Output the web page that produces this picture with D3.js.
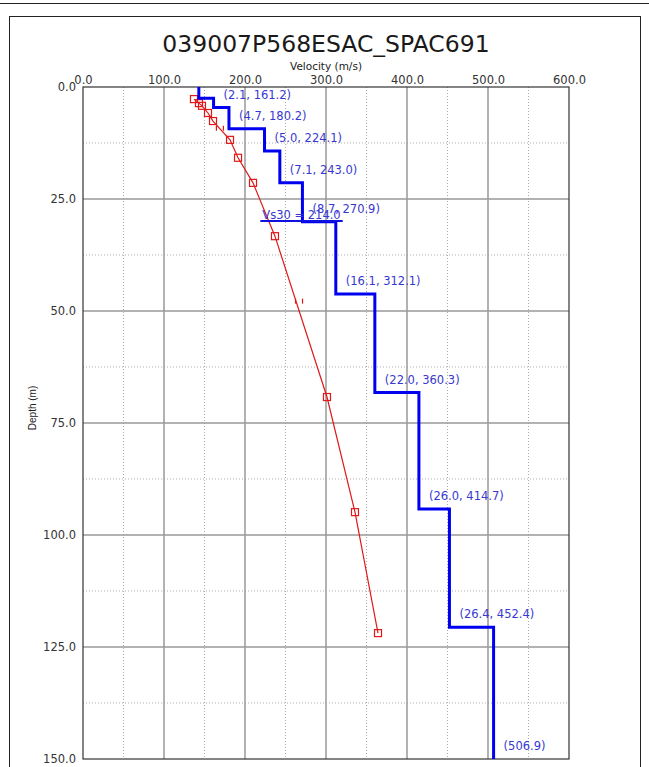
<!DOCTYPE html>
<html>
<head>
<meta charset="utf-8">
<script src="https://cdn.jsdelivr.net/npm/d3@7"></script>
<style>
  html, body { margin: 0; padding: 0; background: #fff; }
  svg { display: block; }
</style>
</head>
<body>
<svg id="chart" width="649" height="767"></svg>
<script>
// ---- Data ----
const title = "039007P568ESAC_SPAC691";
const xTicks = [0, 100, 200, 300, 400, 500, 600];
const yTicks = [0, 25, 50, 75, 100, 125, 150];
const xMinor = [50, 150, 250, 350, 450, 550];
const yMinor = [12.5, 37.5, 62.5, 87.5, 112.5, 137.5];

// Layered Vs model: thickness (m) and shear-wave velocity (m/s); last layer is half-space
const layerThickness = [2.5, 2.1, 4.7, 5.0, 7.1, 8.7, 16.1, 22.0, 26.0, 26.4];
const layerVelocity  = [143.0, 161.2, 180.2, 224.1, 243.0, 270.9, 312.1, 360.3, 414.7, 452.4, 506.9];
const labelledFrom = 1; // first layer is not labelled

// Dispersion-derived points (velocity m/s, depth m)
const pointVel   = [137, 143.2, 146.9, 154.3, 160.5, 181.5, 191.4, 209.9, 237.0, 301.2, 335.8, 364.2];
const pointDepth = [2.7, 3.6, 4.2, 5.8, 7.6, 11.8, 15.8, 21.4, 33.3, 69.2, 94.9, 121.9];
// Intermediate markers drawn as tick pairs
const tickVel   = [169, 266.7];
const tickDepth = [9.2, 47.8];

const vs30 = 214.0;
const vs30Depth = 30;

// ---- Layout ----
const svg = d3.select("#chart");
const W = 649, H = 767;
const x = d3.scaleLinear().domain([0, 600]).range([83, 569]);
const y = d3.scaleLinear().domain([0, 150]).range([87, 759]);

// outer frame
svg.append("line").attr("x1", 0).attr("x2", W).attr("y1", 3.5).attr("y2", 3.5)
  .attr("stroke", "#222").attr("stroke-width", 1);
svg.append("rect").attr("x", 9.5).attr("y", 16.5).attr("width", 631).attr("height", 770)
  .attr("fill", "none").attr("stroke", "#222").attr("stroke-width", 1);

// title
svg.append("text").attr("x", 326).attr("y", 52).attr("text-anchor", "middle")
  .attr("font-family", "DejaVu Sans, Verdana, sans-serif").attr("font-size", 23.5)
  .attr("fill", "#1a1a1a").text(title);

// axis title
svg.append("text").attr("x", 326).attr("y", 70).attr("text-anchor", "middle")
  .attr("font-family", "DejaVu Sans, Verdana, sans-serif").attr("font-size", 10.5)
  .attr("fill", "#222").text("Velocity (m/s)");

svg.append("text").attr("transform", "translate(36,408) rotate(-90)")
  .attr("text-anchor", "middle")
  .attr("font-family", "Liberation Sans Narrow, Liberation Sans, Arial, sans-serif")
  .attr("font-size", 10).attr("fill", "#222").text("Depth (m)");

// grid: minor dotted
const grid = svg.append("g");
grid.selectAll(".vmin").data(xMinor).join("line")
  .attr("x1", d => x(d)).attr("x2", d => x(d)).attr("y1", y(0)).attr("y2", y(150))
  .attr("stroke", "#aaa").attr("stroke-width", 1).attr("stroke-dasharray", "1,2");
grid.selectAll(".hmin").data(yMinor).join("line")
  .attr("x1", x(0)).attr("x2", x(600)).attr("y1", d => y(d)).attr("y2", d => y(d))
  .attr("stroke", "#aaa").attr("stroke-width", 1).attr("stroke-dasharray", "1,2");
// grid: major solid
grid.selectAll(".vmaj").data(xTicks.slice(1, -1)).join("line")
  .attr("x1", d => x(d)).attr("x2", d => x(d)).attr("y1", y(0)).attr("y2", y(150))
  .attr("stroke", "#999").attr("stroke-width", 1.5);
grid.selectAll(".hmaj").data(yTicks.slice(1, -1)).join("line")
  .attr("x1", x(0)).attr("x2", x(600)).attr("y1", d => y(d)).attr("y2", d => y(d))
  .attr("stroke", "#999").attr("stroke-width", 1.5);

// plot border
svg.append("rect").attr("x", x(0)).attr("y", y(0))
  .attr("width", x(600) - x(0)).attr("height", y(150) - y(0))
  .attr("fill", "none").attr("stroke", "#333").attr("stroke-width", 1.2);

// axes (labels only)
const xAxis = d3.axisTop(x).tickValues(xTicks).tickFormat(d3.format(".1f")).tickSize(0).tickPadding(3);
const gx = svg.append("g").attr("transform", `translate(0,${y(0)})`).call(xAxis);
gx.select(".domain").remove();
gx.selectAll("text").attr("font-family", "DejaVu Sans, Verdana, sans-serif")
  .attr("font-size", 11.5).attr("fill", "#333");

const yAxis = d3.axisLeft(y).tickValues(yTicks).tickFormat(d3.format(".1f")).tickSize(0).tickPadding(7);
const gy = svg.append("g").attr("transform", `translate(${x(0)},0)`).call(yAxis);
gy.select(".domain").remove();
gy.selectAll("text").attr("font-family", "DejaVu Sans, Verdana, sans-serif")
  .attr("font-size", 11.5).attr("fill", "#333");

// ---- Red dispersion points ----
const pts = pointVel.map((v, i) => [v, pointDepth[i]]);
svg.append("path").datum(pts)
  .attr("d", d3.line().x(d => x(d[0])).y(d => y(d[1])))
  .attr("fill", "none").attr("stroke", "#e01818").attr("stroke-width", 1.2);
svg.selectAll(".pt").data(pts).join("rect")
  .attr("x", d => x(d[0]) - 3.5).attr("y", d => y(d[1]) - 3.5)
  .attr("width", 7).attr("height", 7)
  .attr("fill", "none").attr("stroke", "#e01818").attr("stroke-width", 1.2);
const tks = tickVel.map((v, i) => [v, tickDepth[i]]);
tks.forEach(d => {
  [-3.5, 3.5].forEach(o => {
    svg.append("line").attr("x1", x(d[0]) + o).attr("x2", x(d[0]) + o)
      .attr("y1", y(d[1]) - 2.5).attr("y2", y(d[1]) + 2.5)
      .attr("stroke", "#e01818").attr("stroke-width", 1.2);
  });
});

// ---- Blue step profile ----
const tops = [0];
layerThickness.forEach((t, i) => tops.push(tops[i] + t));
const bottoms = tops.slice(1).concat([150]);
const stepPts = [];
layerVelocity.forEach((v, i) => {
  stepPts.push([v, tops[i]]);
  stepPts.push([v, bottoms[i]]);
});
svg.append("path").datum(stepPts)
  .attr("d", d3.line().x(d => x(d[0])).y(d => y(d[1])))
  .attr("fill", "none").attr("stroke", "#0000f0").attr("stroke-width", 3)
  .attr("stroke-linejoin", "miter");

// layer labels
const labelFont = "DejaVu Sans, Verdana, sans-serif";
layerVelocity.forEach((v, i) => {
  if (i < labelledFrom) return;
  const txt = i < layerThickness.length
    ? `(${layerThickness[i].toFixed(1)}, ${v.toFixed(1)})`
    : `(${v.toFixed(1)})`;
  svg.append("text").attr("x", x(v) + 10).attr("y", y(bottoms[i]) - 9)
    .attr("font-family", labelFont).attr("font-size", 11.5)
    .attr("fill", "#3838d0").text(txt);
});

// Vs30 label with underline
const vsText = svg.append("text").attr("x", x(vs30) + 6).attr("y", y(vs30Depth) - 2)
  .attr("font-family", labelFont).attr("font-size", 11.5)
  .attr("fill", "#3838d0").text(`Vs30 = ${vs30.toFixed(1)}`);
const tw = vsText.node().getComputedTextLength();
svg.append("line").attr("x1", x(vs30) + 4).attr("x2", x(vs30) + 6 + tw + 2)
  .attr("y1", y(vs30Depth) - 0.5).attr("y2", y(vs30Depth) - 0.5)
  .attr("stroke", "#1010e0").attr("stroke-width", 2);
</script>
</body>
</html>
